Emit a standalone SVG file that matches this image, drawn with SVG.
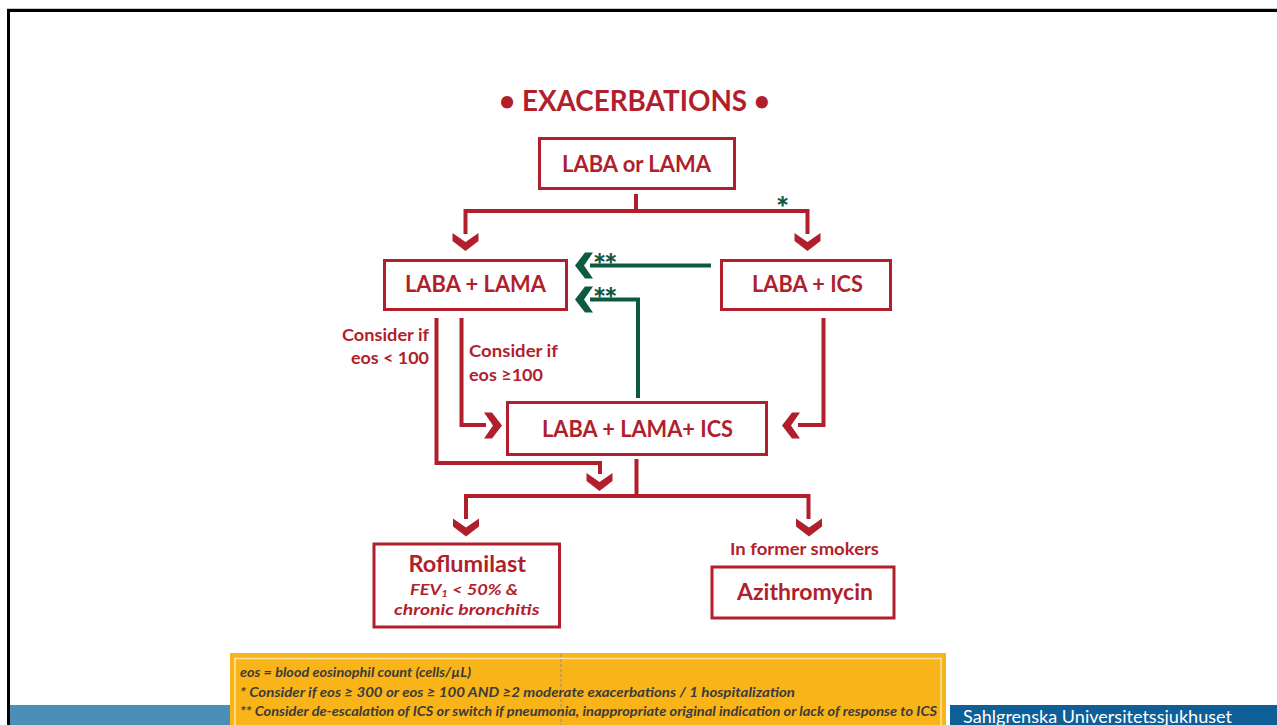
<svg xmlns="http://www.w3.org/2000/svg" width="1277" height="725" viewBox="0 0 1277 725">
<style>
.box{fill:#fff;stroke:#B11F2D;stroke-width:3}
.lbl{font-family:Lato,"Open Sans","Liberation Sans",sans-serif;font-weight:bold;fill:#B11F2D}
.big{font-size:22px}
.sm{font-size:17px}
.it{font-size:16px;font-style:italic}
.red{fill:none;stroke:#B11F2D;stroke-width:4;stroke-linejoin:miter}
.grn{fill:none;stroke:#0E5A41;stroke-width:4;stroke-linejoin:miter}
.star{font-family:Lato,"Liberation Sans",sans-serif;font-weight:900;font-size:31px;fill:#0E5A41}
.leg{font-family:Lato,"Liberation Sans",sans-serif;font-weight:bold;font-style:italic;font-size:13px;fill:#3B3B3B}
</style>
<defs>
<path id="chev" d="M-13,0 L0,9 L13,0 L13,8 L0,18 L-13,8 Z"/>
</defs>
<rect width="1277" height="725" fill="#fff"/>
<!-- frame -->
<line x1="7" y1="8.5" x2="1277" y2="8.5" stroke="#C8C8C8" stroke-width="1"/>
<line x1="7" y1="10.5" x2="1277" y2="10.5" stroke="#000" stroke-width="3"/>
<line x1="8.5" y1="9" x2="8.5" y2="725" stroke="#000" stroke-width="3"/>
<!-- footer -->
<rect x="10" y="705" width="220" height="20" fill="#4B8FB7"/>
<rect x="950" y="705" width="327" height="20" fill="#0E5E98"/>
<text x="963" y="723" font-family="Lato,'Open Sans','Liberation Sans',sans-serif" font-size="17" fill="#fff" textLength="269" lengthAdjust="spacingAndGlyphs">Sahlgrenska Universitetssjukhuset</text>

<text class="lbl" x="499" y="111" font-size="29" textLength="271" lengthAdjust="spacingAndGlyphs">• EXACERBATIONS •</text>

<g id="connectors">
<path class="red" d="M636,194 V211"/>
<path class="red" d="M465.5,234 V211 H807.5 V234"/>
<path class="red" d="M436.5,318 V463 H600 V474"/>
<path class="red" d="M461.5,318 V425 H486"/>
<path class="red" d="M823.5,318 V425 H798"/>
<path class="red" d="M636.5,459 V496"/>
<path class="red" d="M466,519 V496 H808.5 V519"/>
<path class="grn" d="M711,265.5 H590"/>
<path class="grn" d="M638,398 V299.5 H590"/>
<g fill="#B11F2D">
<use href="#chev" transform="translate(465.5,233)"/>
<use href="#chev" transform="translate(807.5,233)"/>
<use href="#chev" transform="translate(599.5,473)"/>
<use href="#chev" transform="translate(466,518.5)"/>
<use href="#chev" transform="translate(809,518.5)"/>
<use href="#chev" transform="translate(484,425.5) rotate(-90)"/>
<use href="#chev" transform="translate(800,425.5) rotate(90)"/>
</g>
<g fill="#0E5A41">
<use href="#chev" transform="translate(593,265.5) rotate(90)"/>
<use href="#chev" transform="translate(593,299.5) rotate(90)"/>
</g>
<text class="star" x="776" y="218.5">*</text>
<text class="star" x="593" y="275.5" letter-spacing="-2">**</text>
<text class="star" x="593" y="310" letter-spacing="-2">**</text>
<text class="lbl sm" x="342" y="341" textLength="87" lengthAdjust="spacingAndGlyphs">Consider if</text>
<text class="lbl sm" x="351" y="364" textLength="78" lengthAdjust="spacingAndGlyphs">eos &lt; 100</text>
<text class="lbl sm" x="469" y="357" textLength="89" lengthAdjust="spacingAndGlyphs">Consider if</text>
<text class="lbl sm" x="469" y="381" textLength="74" lengthAdjust="spacingAndGlyphs">eos ≥100</text>
<text class="lbl sm" x="730" y="555" textLength="149" lengthAdjust="spacingAndGlyphs">In former smokers</text>
</g>

<g id="n-laba-or-lama">
<rect class="box" x="539.5" y="138.5" width="195" height="50"/>
<text class="lbl big" x="562" y="172" textLength="149" lengthAdjust="spacingAndGlyphs">LABA or LAMA</text>
</g>
<g id="n-laba-lama">
<rect class="box" x="384.5" y="260.5" width="182" height="49"/>
<text class="lbl big" x="405" y="292" textLength="141" lengthAdjust="spacingAndGlyphs">LABA + LAMA</text>
</g>
<g id="n-laba-ics">
<rect class="box" x="721.5" y="260.5" width="169" height="49"/>
<text class="lbl big" x="752" y="292" textLength="111" lengthAdjust="spacingAndGlyphs">LABA + ICS</text>
</g>
<g id="n-triple">
<rect class="box" x="507.5" y="402.5" width="259" height="52"/>
<text class="lbl big" x="542" y="437" textLength="191" lengthAdjust="spacingAndGlyphs">LABA + LAMA+ ICS</text>
</g>
<g id="n-roflumilast">
<rect class="box" x="374" y="544" width="185.5" height="83"/>
<text class="lbl" x="408.5" y="572" font-size="22" textLength="117.5" lengthAdjust="spacingAndGlyphs">Roflumilast</text>
<text class="lbl it" x="410" y="595" textLength="108" lengthAdjust="spacingAndGlyphs">FEV<tspan font-size="10" dy="2">1</tspan><tspan dy="-2"> &lt; 50% &amp;</tspan></text>
<text class="lbl it" x="394" y="615" textLength="145.5" lengthAdjust="spacingAndGlyphs">chronic bronchitis</text>
</g>
<g id="n-azithromycin">
<rect class="box" x="712" y="567" width="182" height="51"/>
<text class="lbl big" x="737" y="600" textLength="136" lengthAdjust="spacingAndGlyphs">Azithromycin</text>
</g>

<g id="legend">
<rect x="230" y="653" width="716" height="72" fill="#F8B418"/>
<rect x="235" y="658.5" width="706" height="70" fill="none" stroke="#FCE6A6" stroke-width="1.5"/>
<line x1="561" y1="654" x2="561" y2="725" stroke="#8E8E8E" stroke-width="1" stroke-dasharray="3 2"/>
<text class="leg" x="240" y="677" textLength="231" lengthAdjust="spacingAndGlyphs">eos = blood eosinophil count (cells/µL)</text>
<text class="leg" x="240" y="697" textLength="555" lengthAdjust="spacingAndGlyphs">* Consider if eos ≥ 300 or eos ≥ 100 AND ≥2 moderate exacerbations / 1 hospitalization</text>
<text class="leg" x="240" y="716" textLength="697" lengthAdjust="spacingAndGlyphs">** Consider de-escalation of ICS or switch if pneumonia, inappropriate original indication or lack of response to ICS</text>
</g>
</svg>
